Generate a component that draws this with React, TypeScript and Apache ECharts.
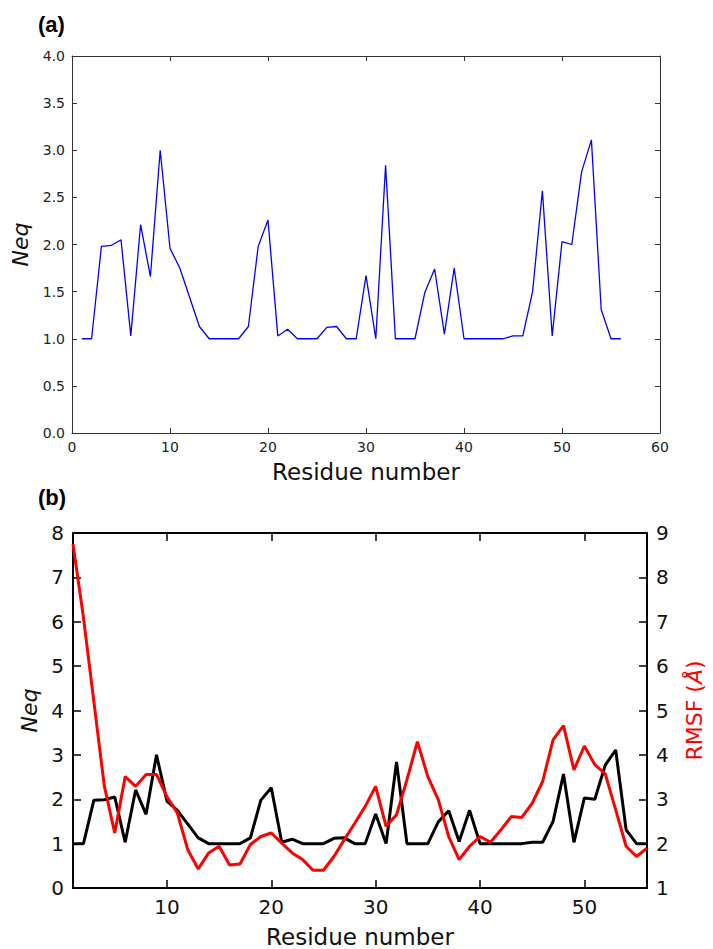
import React, { useEffect, useRef } from "react";
import * as echarts from "echarts";

const residues = [
  1, 2, 3, 4, 5, 6, 7, 8, 9, 10, 11, 12, 13, 14, 15, 16, 17, 18, 19, 20,
  21, 22, 23, 24, 25, 26, 27, 28, 29, 30, 31, 32, 33, 34, 35, 36, 37, 38, 39, 40,
  41, 42, 43, 44, 45, 46, 47, 48, 49, 50, 51, 52, 53, 54, 55, 56,
];

const neq = [
  1.0, 1.0, 1.98, 1.99, 2.05, 1.03, 2.21, 1.66, 3.0, 1.96,
  1.75, 1.44, 1.13, 1.0, 1.0, 1.0, 1.0, 1.13, 1.98, 2.26,
  1.03, 1.1, 1.0, 1.0, 1.0, 1.12, 1.13, 1.0, 1.0, 1.67,
  1.0, 2.84, 1.0, 1.0, 1.0, 1.49, 1.74, 1.05, 1.75, 1.0,
  1.0, 1.0, 1.0, 1.0, 1.03, 1.03, 1.5, 2.57, 1.03, 2.03,
  2.0, 2.77, 3.11, 1.31, 1.0, 1.0,
];

const rmsf = [
  8.75, 7.1, 5.2, 3.3, 2.24, 3.51, 3.29, 3.56, 3.56, 3.06,
  2.69, 1.86, 1.43, 1.79, 1.94, 1.52, 1.54, 1.98, 2.16, 2.24,
  2.01, 1.79, 1.64, 1.4, 1.4, 1.71, 2.09, 2.46, 2.84, 3.29,
  2.39, 2.65, 3.44, 4.3, 3.51, 2.99, 2.16, 1.64, 1.94, 2.16,
  2.03, 2.31, 2.61, 2.59, 2.91, 3.4, 4.34, 4.66, 3.66, 4.2,
  3.78, 3.57, 2.76, 1.94, 1.71, 1.9,
];

const bottomXTicks = [10, 20, 30, 40, 50];

const FONT = "DejaVu Sans";

export default function App() {
  const ref = useRef<HTMLDivElement>(null);

  useEffect(() => {
    if (!ref.current) return;
    const chart = echarts.init(ref.current, null, { renderer: "svg" });

    const neqPairs = residues.map((r, i) => [r, neq[i]]);
    const rmsfPairs = residues.map((r, i) => [r, rmsf[i]]);

    const topAxisLine = { show: true, onZero: false, lineStyle: { color: "#333", width: 1 } };
    const botAxisLine = { show: true, onZero: false, lineStyle: { color: "#000", width: 2 } };
    const topTick = { show: true, inside: true, length: 5, lineStyle: { color: "#333", width: 1 } };
    const botTick = { show: true, inside: true, length: 8, lineStyle: { color: "#000", width: 1.5 } };
    const topLabel = { color: "#222", fontFamily: FONT, fontSize: 14, margin: 7 };
    const botLabel = { color: "#111", fontFamily: FONT, fontSize: 20, margin: 9 };

    chart.setOption({
      animation: false,
      backgroundColor: "#fff",
      textStyle: { fontFamily: FONT },
      graphic: [
        {
          type: "text",
          left: 38,
          top: 13,
          style: { text: "(a)", fontFamily: "Liberation Sans", fontWeight: "bold", fontSize: 22, fill: "#000" },
        },
        {
          type: "text",
          left: 38,
          top: 486,
          style: { text: "(b)", fontFamily: "Liberation Sans", fontWeight: "bold", fontSize: 22, fill: "#000" },
        },
      ],
      grid: [
        { left: 72, top: 56, width: 588, height: 377 },
        { left: 73, top: 533, width: 582, height: 355 },
      ],
      xAxis: [
        {
          gridIndex: 0,
          type: "value",
          position: "bottom",
          min: 0,
          max: 60,
          interval: 10,
          axisLine: topAxisLine,
          axisTick: topTick,
          axisLabel: topLabel,
          splitLine: { show: false },
          name: "Residue number",
          nameLocation: "middle",
          nameGap: 27,
          nameTextStyle: { fontFamily: FONT, fontSize: 23, color: "#111", verticalAlign: "top" },
        },
        {
          gridIndex: 0,
          type: "value",
          position: "top",
          min: 0,
          max: 60,
          interval: 10,
          axisLine: topAxisLine,
          axisTick: topTick,
          axisLabel: { show: false },
          splitLine: { show: false },
        },
        {
          gridIndex: 1,
          type: "value",
          position: "bottom",
          min: 1,
          max: 56,
          axisLine: botAxisLine,
          axisTick: { ...botTick, customValues: bottomXTicks },
          axisLabel: { ...botLabel, customValues: bottomXTicks },
          splitLine: { show: false },
          name: "Residue number",
          nameLocation: "middle",
          nameGap: 37,
          nameTextStyle: { fontFamily: FONT, fontSize: 23, color: "#111", verticalAlign: "top" },
        },
        {
          gridIndex: 1,
          type: "value",
          position: "top",
          min: 1,
          max: 56,
          axisLine: botAxisLine,
          axisTick: { ...botTick, customValues: bottomXTicks },
          axisLabel: { show: false },
          splitLine: { show: false },
        },
      ],
      yAxis: [
        {
          gridIndex: 0,
          type: "value",
          position: "left",
          min: 0,
          max: 4,
          interval: 0.5,
          axisLine: topAxisLine,
          axisTick: topTick,
          axisLabel: { ...topLabel, formatter: (v: number) => v.toFixed(1) },
          splitLine: { show: false },
          name: "Neq",
          nameLocation: "middle",
          nameRotate: 90,
          nameGap: 38,
          nameTextStyle: { fontFamily: FONT, fontSize: 22, fontStyle: "italic", color: "#111" },
        },
        {
          gridIndex: 0,
          type: "value",
          position: "right",
          min: 0,
          max: 4,
          interval: 0.5,
          axisLine: topAxisLine,
          axisTick: topTick,
          axisLabel: { show: false },
          splitLine: { show: false },
        },
        {
          gridIndex: 1,
          type: "value",
          position: "left",
          min: 0,
          max: 8,
          interval: 1,
          axisLine: botAxisLine,
          axisTick: botTick,
          axisLabel: botLabel,
          splitLine: { show: false },
          name: "Neq",
          nameLocation: "middle",
          nameRotate: 90,
          nameGap: 30,
          nameTextStyle: { fontFamily: FONT, fontSize: 22, fontStyle: "italic", color: "#111" },
        },
        {
          gridIndex: 1,
          type: "value",
          position: "right",
          min: 1,
          max: 9,
          interval: 1,
          axisLine: botAxisLine,
          axisTick: botTick,
          axisLabel: botLabel,
          splitLine: { show: false },
          name: "RMSF ({i|Å})",
          nameLocation: "middle",
          nameRotate: 90,
          nameGap: 36,
          nameTextStyle: {
            fontFamily: FONT,
            fontSize: 22,
            color: "#ff0000",
            rich: { i: { fontFamily: FONT, fontSize: 22, fontStyle: "italic", color: "#ff0000" } },
          },
        },
      ],
      series: [
        {
          type: "line",
          xAxisIndex: 0,
          yAxisIndex: 0,
          data: neqPairs,
          showSymbol: false,
          symbol: "none",
          lineStyle: { color: "#0000ff", width: 1.3 },
        },
        {
          type: "line",
          xAxisIndex: 2,
          yAxisIndex: 2,
          data: neqPairs,
          showSymbol: false,
          symbol: "none",
          lineStyle: { color: "#000", width: 3 },
        },
        {
          type: "line",
          xAxisIndex: 2,
          yAxisIndex: 3,
          data: rmsfPairs,
          showSymbol: false,
          symbol: "none",
          lineStyle: { color: "#ff0000", width: 3 },
        },
      ],
    });

    return () => chart.dispose();
  }, []);

  return (
    <div
      ref={ref}
      style={{ position: "absolute", left: 0, top: 0, width: 713, height: 949 }}
    />
  );
}
